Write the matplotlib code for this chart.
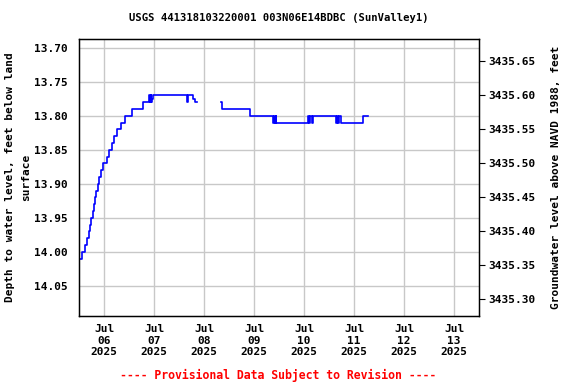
import numpy as np
import pandas as pd
import matplotlib
matplotlib.use('Agg')
import matplotlib.pyplot as plt
import matplotlib.dates as mdates

# step points: time and depth below land surface (ft)
times = ['2025-07-05 12:10', '2025-07-05 13:17', '2025-07-05 14:43', '2025-07-05 16:00',
         '2025-07-05 16:38', '2025-07-05 17:07', '2025-07-05 17:36', '2025-07-05 18:34',
         '2025-07-05 19:02', '2025-07-05 19:31', '2025-07-05 20:10', '2025-07-05 20:58',
         '2025-07-05 21:46', '2025-07-05 22:43', '2025-07-05 23:41', '2025-07-06 01:17',
         '2025-07-06 02:34', '2025-07-06 03:41', '2025-07-06 04:38', '2025-07-06 06:05',
         '2025-07-06 08:00', '2025-07-06 10:05', '2025-07-06 13:17', '2025-07-06 18:53',
         '2025-07-06 21:45', '2025-07-06 22:05', '2025-07-06 22:20', '2025-07-06 22:40',
         '2025-07-06 23:10', '2025-07-06 23:25', '2025-07-07 16:00', '2025-07-07 16:20',
         '2025-07-07 18:50', '2025-07-07 19:40', '2025-07-07 20:30',
         '2025-07-08 08:10', '2025-07-08 08:50', '2025-07-08 22:05', '2025-07-09 09:00',
         '2025-07-09 09:30', '2025-07-09 09:50', '2025-07-09 10:20', '2025-07-09 10:40',
         '2025-07-09 11:20', '2025-07-10 01:50', '2025-07-10 02:20', '2025-07-10 02:40',
         '2025-07-10 04:00', '2025-07-10 04:20', '2025-07-10 15:25', '2025-07-10 15:50',
         '2025-07-10 16:20', '2025-07-10 16:50', '2025-07-10 17:50', '2025-07-11 04:30',
         '2025-07-11 06:35']
depth = [14.01, 14.00, 13.99, 13.98,
         13.97, 13.96, 13.95, 13.94,
         13.93, 13.92, 13.91, 13.90,
         13.89, 13.88, 13.87, 13.86,
         13.85, 13.84, 13.83, 13.82,
         13.81, 13.80, 13.79, 13.78,
         13.77, 13.78, 13.77, 13.78, 13.775, 13.77, 13.78, 13.77,
         13.775, 13.78, np.nan,
         13.78, 13.79, 13.80, 13.81,
         13.80, 13.81, 13.80, 13.81,
         13.81, 13.80, 13.81, 13.80,
         13.81, 13.80, 13.81, 13.80,
         13.81, 13.80, 13.81, 13.80,
         13.80]

depth_ticks = [13.70, 13.75, 13.80, 13.85, 13.90, 13.95, 14.00, 14.05]
elev_ticks = [3435.30, 3435.35, 3435.40, 3435.45, 3435.50, 3435.55, 3435.60, 3435.65]
datum = 3449.37  # elevation = datum - depth

t = pd.to_datetime(times)
d = np.array(depth)

plt.rcParams['font.family'] = 'DejaVu Sans Mono'
plt.rcParams['font.weight'] = 'bold'
plt.rcParams['axes.titleweight'] = 'bold'
plt.rcParams['axes.labelweight'] = 'bold'
plt.rcParams['font.size'] = 8

fig = plt.figure(figsize=(5.76, 3.84), dpi=100)
ax = fig.add_axes([0.1372, 0.178, 0.6944, 0.7204])

ax.plot(t, d, color='#0000ff', lw=1.2, drawstyle='steps-post')

ax.set_xlim(pd.Timestamp('2025-07-05 12:00'), pd.Timestamp('2025-07-13 12:00'))
ax.set_ylim(14.094, 13.687)
ax.set_yticks(depth_ticks)
ax.set_yticklabels(['%.2f' % v for v in depth_ticks])
ax.xaxis.set_major_locator(mdates.DayLocator())
ax.xaxis.set_major_formatter(mdates.DateFormatter('%b\n%d\n%Y'))
ax.tick_params(axis='both', length=0, pad=8)
ax.tick_params(axis='x', pad=6)
ax.grid(True, color='#c8c8c8', lw=1)
ax.set_axisbelow(True)
for s in ax.spines.values():
    s.set_linewidth(1)

ax.set_ylabel('Depth to water level, feet below land\nsurface', linespacing=1.75)
ax.yaxis.set_label_coords(-0.12, 0.5)
ax.set_title('USGS 441318103220001 003N06E14BDBC (SunValley1)', fontsize=7.6, pad=13)

ax2 = ax.twinx()
lo, hi = ax.get_ylim()
ax2.set_ylim(datum - lo, datum - hi)
ax2.set_yticks(elev_ticks)
ax2.set_yticklabels(['%.2f' % v for v in elev_ticks])
ax2.tick_params(axis='y', length=4, pad=3)
ax2.set_ylabel('Groundwater level above NAVD 1988, feet', labelpad=11)

fig.text(0.483, 0.014, '---- Provisional Data Subject to Revision ----',
         color='red', ha='center', fontsize=8.3, fontweight='bold')

fig.savefig('out.png', dpi=100)
